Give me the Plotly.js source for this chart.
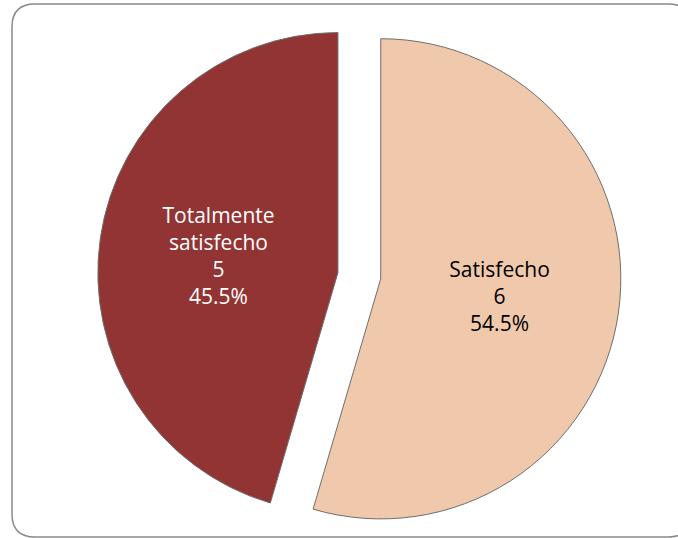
<!DOCTYPE html>
<html>
<head>
<meta charset="utf-8">
<script src="https://cdn.plot.ly/plotly-3.0.1.min.js"></script>
<style>html,body{margin:0;padding:0;background:#fff;}#chart{width:678px;height:538px;}</style>
</head>
<body>
<div id="chart"></div>
<script>
const categories = ['Satisfecho', 'Totalmente<br>satisfecho'];
const counts = [6, 5];
const sliceColors = ['#F0C9AC', '#933434'];
const textColors = ['#000000', '#ffffff'];

// rounded frame path in paper coordinates (margins are 0)
const W = 678, H = 538;
const fx0 = 12 / W, fx1 = 691 / W, fy0 = 1 - 537 / H, fy1 = 1 - 4 / H;
const rx = 23 / W, ry = 23 / H;
const framePath = `M ${fx0 + rx} ${fy1} L ${fx1 - rx} ${fy1} Q ${fx1} ${fy1} ${fx1} ${fy1 - ry} ` +
  `L ${fx1} ${fy0 + ry} Q ${fx1} ${fy0} ${fx1 - rx} ${fy0} L ${fx0 + rx} ${fy0} ` +
  `Q ${fx0} ${fy0} ${fx0} ${fy0 + ry} L ${fx0} ${fy1 - ry} Q ${fx0} ${fy1} ${fx0 + rx} ${fy1} Z`;

const trace = {
  type: 'pie',
  labels: categories,
  values: counts,
  sort: false,
  direction: 'clockwise',
  rotation: 0,
  pull: [0.09, 0.09],
  marker: {colors: sliceColors, line: {color: '#6e6e6e', width: 1}},
  textinfo: 'label+value+percent',
  texttemplate: '%{label}<br>%{value}<br>%{percent:.1%}',
  textposition: 'inside',
  insidetextorientation: 'horizontal',
  insidetextfont: {family: 'Open Sans, sans-serif', size: 21, color: textColors},
  hoverinfo: 'none',
  showlegend: false,
  domain: {x: [0.144, 0.916], y: [0.0, 0.975]}
};

const layout = {
  width: W, height: H,
  margin: {l: 0, r: 0, t: 0, b: 0},
  paper_bgcolor: '#ffffff',
  plot_bgcolor: '#ffffff',
  showlegend: false,
  shapes: [{
    type: 'path', xref: 'paper', yref: 'paper', path: framePath,
    line: {color: '#8a8a8a', width: 1.5}, fillcolor: 'rgba(0,0,0,0)', layer: 'below'
  }]
};

Plotly.newPlot('chart', [trace], layout, {displayModeBar: false, staticPlot: true});
</script>
</body>
</html>
